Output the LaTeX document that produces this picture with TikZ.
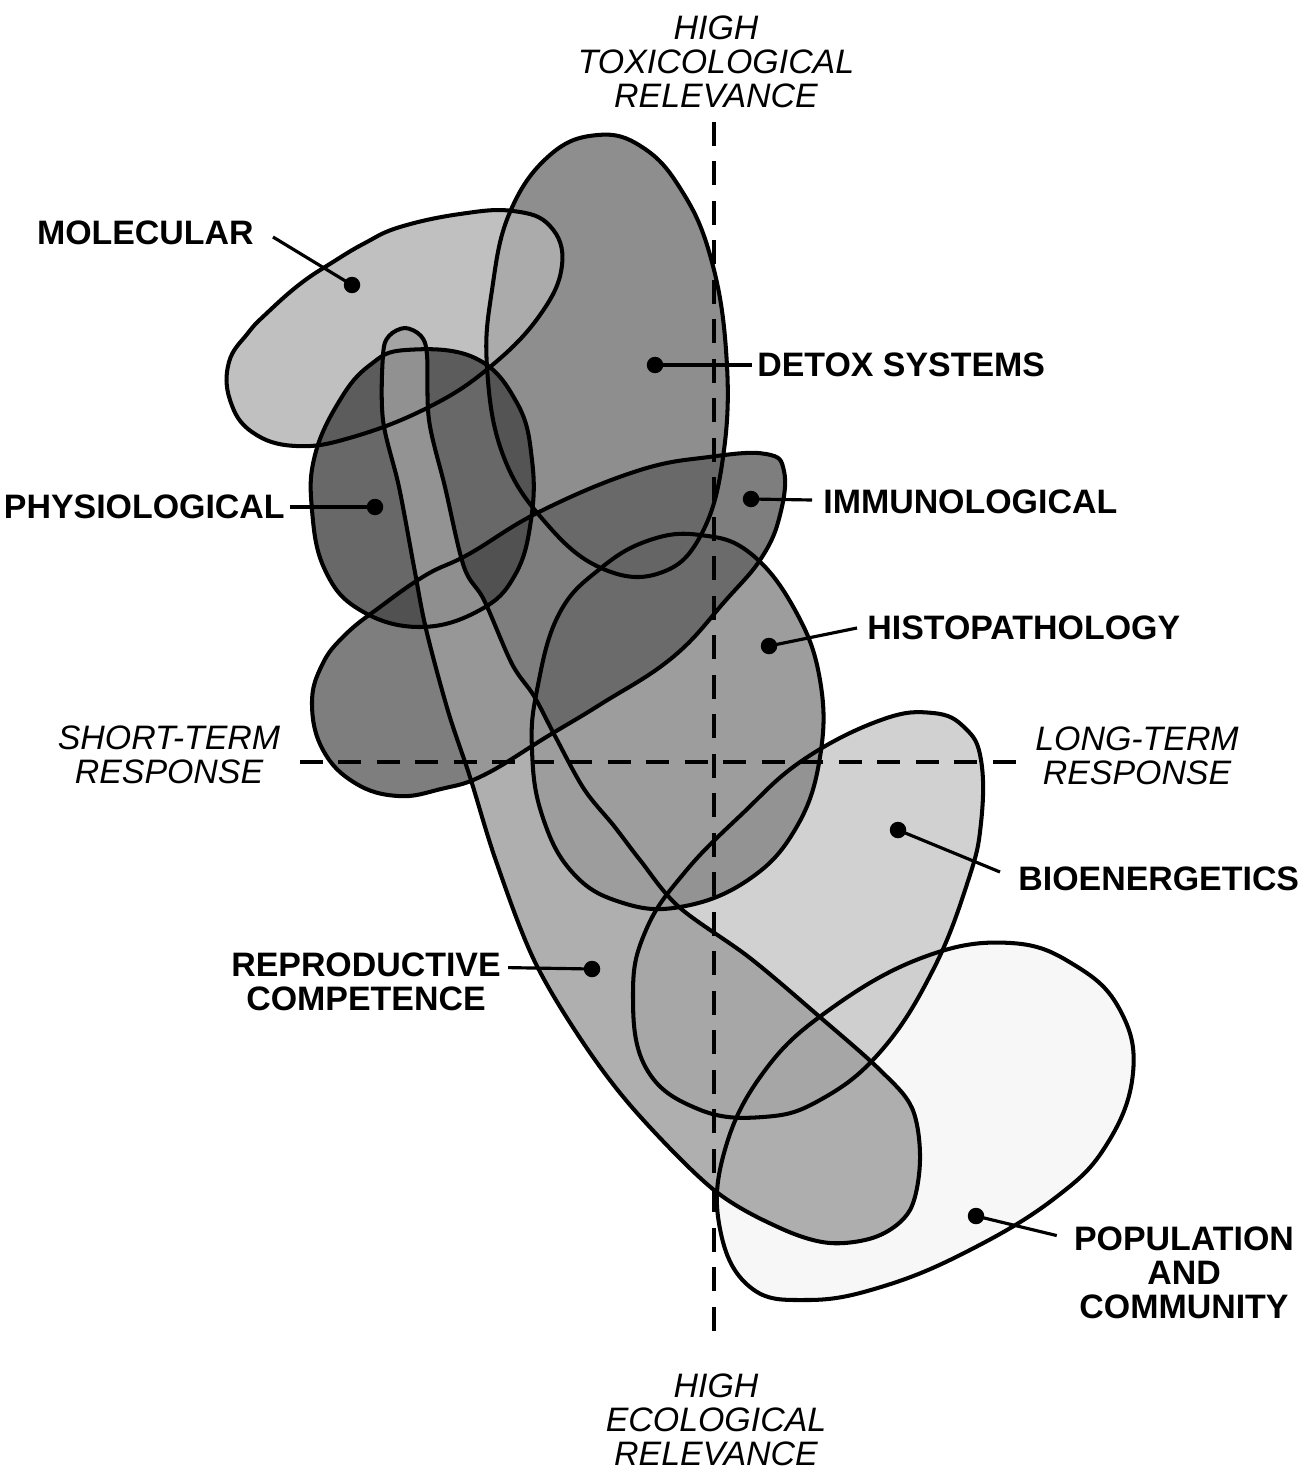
\documentclass[tikz,border=0pt]{standalone}
\usepackage{fontspec}
\newfontfamily\labfont{Liberation Sans}
\definecolor{cpop}{gray}{0.97}
\definecolor{cbio}{gray}{0.78}
\definecolor{chis}{gray}{0.53}
\definecolor{cdet}{gray}{0.46}
\definecolor{cimm}{gray}{0.38}
\definecolor{cmol}{gray}{0.70}
\definecolor{cphy}{gray}{0.28}
\definecolor{crep}{gray}{0.62}
\begin{document}
\begin{tikzpicture}[x=0.02cm,y=-0.02cm,
  outline/.style={line width=2.3pt, line join=round},
  axisline/.style={line width=2.3pt, dash pattern=on 0.48cm off 0.31cm},
  leader/.style={line width=1.8pt},
  dotmark/.style={circle, fill=black, inner sep=0pt, minimum size=0.33cm},
  lab/.style={font=\labfont\bfseries\fontsize{19.3}{19.4}\selectfont, inner sep=0pt, align=center},
  axlab/.style={font=\labfont\itshape\fontsize{19.3}{19.4}\selectfont, inner sep=0pt, align=center},
  shade/.style={fill opacity=0.82}
]
\useasboundingbox (0,0) rectangle (1306,1473);

\def\ppop{plot[smooth cycle, tension=0.7] coordinates {(1011,943) (1076,966) (1120,1010) (1133,1073) (1107,1144) (1055,1198) (968,1251) (881,1287) (807,1300) (750,1287) (720,1229) (724,1153) (763,1073) (829,1010) (924,957)}}
\def\pbio{plot[smooth cycle, tension=0.7] coordinates {(933,713) (965,728) (981,760) (981,823) (968,881) (933,970) (881,1051) (820,1100) (763,1117) (698,1109) (646,1068) (633,993) (646,930) (685,872) (742,814) (803,760) (881,720)}}
\def\phis{plot[smooth cycle, tension=0.7] coordinates {(559,614) (601,568) (650,540) (700,535) (750,553) (795,610) (820,680) (820,757) (796,828) (748,880) (680,907) (620,902) (572,872) (542,815) (532,750) (537,690)}}
\def\pdet{plot[smooth cycle, tension=0.7] coordinates {(598,135) (642,147) (680,188) (710,255) (726,350) (724,450) (702,533) (660,573) (601,568) (545,522) (503,455) (487,367) (492,290) (510,212) (550,155)}}
\def\pimm{plot[smooth cycle, tension=0.7] coordinates {(784,471) (766,454) (709,457) (637,471) (541,511) (469,554) (426,575) (380,607) (345,635) (322,665) (312,704) (323,750) (355,783) (398,796) (441,789) (484,775) (548,736) (601,704) (673,657) (726,600) (762,557) (780,515)}}
\def\pmol{plot[smooth cycle, tension=0.7] coordinates {(400,227) (460,214) (513,211) (550,226) (562,265) (540,315) (490,367) (429,407) (353,437) (296,446) (252,432) (230,400) (229,362) (248,333) (267,313) (300,284) (333,262) (365,243)}}
\def\pphy{plot[smooth cycle, tension=0.7] coordinates {(406,350) (475,358) (517,403) (532,460) (531,520) (515,575) (480,610) (420,627) (360,610) (325,570) (312,510) (315,455) (340,400) (370,365)}}
\def\prep{plot[smooth cycle, tension=0.55] coordinates {(405,328) (421,336) (427,355) (429,420) (445,487) (464,567) (484,600) (512,664) (534,696) (555,736) (584,789) (614,826) (640,860) (679,907) (750,958) (821,1018) (880,1070) (912,1108) (920,1160) (910,1210) (878,1236) (830,1243) (780,1228) (714,1190) (637,1113) (584,1044) (534,960) (496,861) (470,777) (448,711) (426,629) (414,567) (399,487) (383,420) (383,355) (389,336)}}

% fills (bottom to top)
\fill[cpop] \ppop;
\fill[cbio, shade] \pbio;
\fill[chis, shade] \phis;
\fill[cdet, shade] \pdet;
\fill[cimm, shade] \pimm;
\fill[cmol, shade] \pmol;
\fill[cphy, shade] \pphy;
\fill[crep, shade] \prep;

% outlines
\draw[outline] \ppop;
\draw[outline] \pbio;
\draw[outline] \phis;
\draw[outline] \pdet;
\draw[outline] \pimm;
\draw[outline] \pmol;
\draw[outline] \pphy;
\draw[outline] \prep;

% axes
\coordinate (vt) at (714,122);
\coordinate (vb) at (714,1343);
\coordinate (hl) at (300,762);
\coordinate (hr) at (1022,762);
\draw[axisline] (vt) -- (vb);
\draw[axisline, dash pattern=on 0.46cm off 0.31cm] (hl) -- (hr);

% dots
\node[dotmark] (dmol) at (352,285) {};
\node[dotmark] (ddet) at (655,365) {};
\node[dotmark] (dphy) at (375,507) {};
\node[dotmark] (dimm) at (751,499) {};
\node[dotmark] (dhis) at (769,646) {};
\node[dotmark] (dbio) at (898,830) {};
\node[dotmark] (drep) at (592,969) {};
\node[dotmark] (dpop) at (976,1216) {};

% labels
\node[lab, anchor=east] (mol) at (254,233) {MOLECULAR};
\node[lab, anchor=east] (phy) at (285,507) {PHYSIOLOGICAL};
\node[lab, anchor=west] (det) at (757,365) {DETOX SYSTEMS};
\node[lab, anchor=west] (imm) at (823,502) {IMMUNOLOGICAL};
\node[lab, anchor=west] (his) at (867,628) {HISTOPATHOLOGY};
\node[lab, anchor=west] (bio) at (1018,879) {BIOENERGETICS};
\node[lab] (rep) at (366,982) {REPRODUCTIVE\\COMPETENCE};
\node[lab] (pop) at (1184,1273) {POPULATION\\AND\\COMMUNITY};
\node[axlab] (st) at (169,755) {SHORT-TERM\\RESPONSE};
\node[axlab] (lt) at (1137,756) {LONG-TERM\\RESPONSE};
\node[axlab] (tox) at (716,62) {HIGH\\TOXICOLOGICAL\\RELEVANCE};
\node[axlab] (eco) at (716,1420) {HIGH\\ECOLOGICAL\\RELEVANCE};

% leaders
\draw[leader] ([xshift=0.38cm,yshift=-0.08cm]mol.east) -- (dmol.center);
\draw[leader] ([xshift=0.1cm]phy.east) -- (dphy.center);
\draw[leader] (ddet.center) -- ([xshift=-0.1cm]det.west);
\draw[leader] (dimm.center) -- ([xshift=-0.22cm,yshift=0.04cm]imm.west);
\draw[leader] (dhis.center) -- ([xshift=-0.2cm]his.west);
\draw[leader] (dbio.center) -- ([xshift=-0.36cm,yshift=0.14cm]bio.west);
\draw[leader] ([xshift=0.14cm,yshift=-0.3cm]rep.north east) -- (drep.center);
\draw[leader] (dpop.center) -- ([xshift=-0.34cm,yshift=-0.18cm]pop.north west);
\end{tikzpicture}
\end{document}
